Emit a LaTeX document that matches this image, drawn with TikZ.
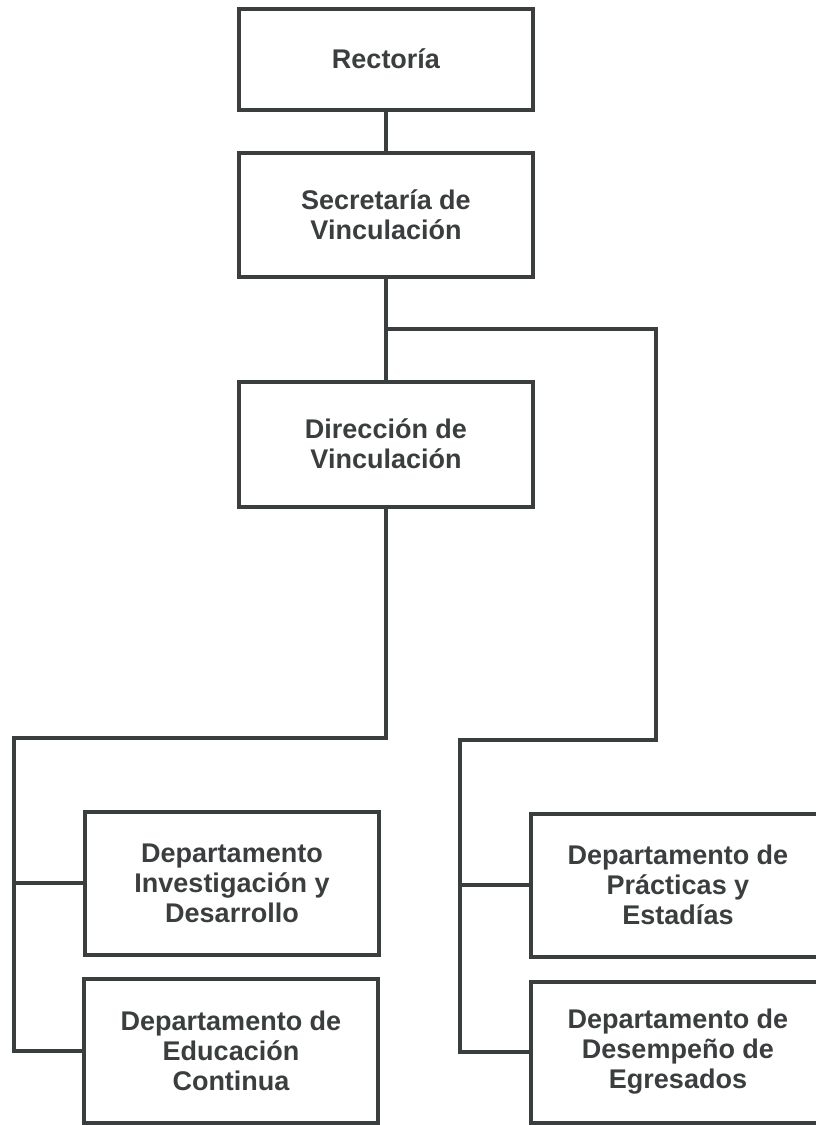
\documentclass[tikz,border=0pt]{standalone}
\usepackage{fontspec}
\setmainfont{Liberation Sans}
\usetikzlibrary{calc}
\definecolor{orggray}{RGB}{58,62,62}
\tikzset{
unit/.style={draw=orggray, line width=4pt, text=orggray, font=\bfseries\fontsize{27}{30}\selectfont, align=center, minimum width=294pt, inner sep=0pt},
link/.style={draw=orggray, line width=4pt}
}
\begin{document}
\begin{tikzpicture}[x=1pt,y=-1pt]
\useasboundingbox[fill=white] (0,0) rectangle (816,1125);
\node[unit, minimum height=101pt] (rectoria) at (386,59) {Rectoría};
\node[unit, minimum height=124pt] (secretaria) at (386,215) {Secretaría de\\Vinculación};
\node[unit, minimum height=125pt] (direccion) at (386,444) {Dirección de\\Vinculación};
\node[unit, minimum height=143pt] (investigacion) at (232,883) {Departamento\\Investigación y\\Desarrollo};
\node[unit, minimum height=144pt] (educacion) at (231,1051) {Departamento de\\Educación\\Continua};
\node[unit, minimum height=143pt] (practicas) at (678,885) {Departamento de\\Prácticas y\\Estadías};
\node[unit, minimum height=141pt] (desempeno) at (678,1052) {Departamento de\\Desempeño de\\Egresados};
\coordinate (split) at ($(secretaria.south)!0.5!(direccion.north)$);
\coordinate (leftbus) at (14,738);
\coordinate (rightbus) at (460,740);
\draw[link] (rectoria.south) -- (secretaria.north);
\draw[link] (secretaria.south) -- (direccion.north);
\draw[link] (split) -| (656,740) -- (rightbus) |- (desempeno.west);
\draw[link] (rightbus) |- (practicas.west);
\draw[link] (direccion.south) |- (leftbus) |- (educacion.west);
\draw[link] (leftbus) |- (investigacion.west);
\end{tikzpicture}
\end{document}
